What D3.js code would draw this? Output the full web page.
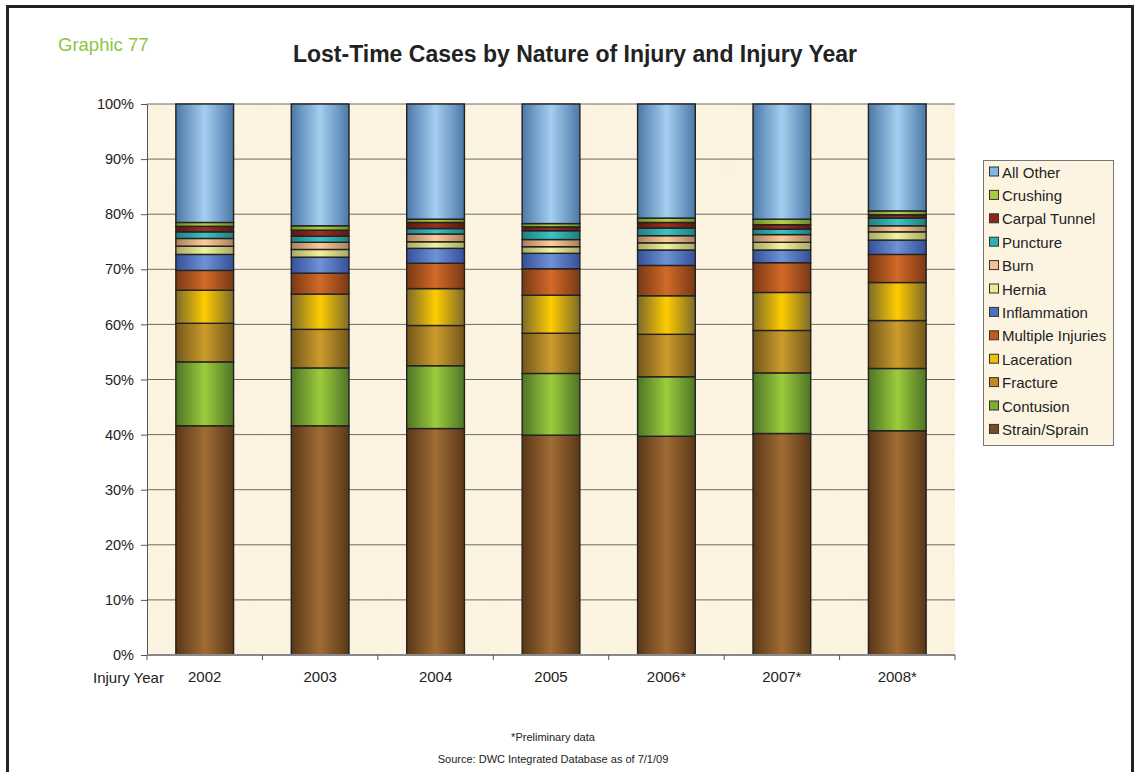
<!DOCTYPE html>
<html><head><meta charset="utf-8">
<script src="https://cdn.jsdelivr.net/npm/d3@7"></script>
<style>body{margin:0;background:#fff}svg{display:block;font-family:Arial,"Liberation Sans",sans-serif}</style>
</head><body><svg id="c" width="1139" height="772"></svg>
<script>
const years = ["2002","2003","2004","2005","2006*","2007*","2008*"];
const seriesNames = ["Strain/Sprain","Contusion","Fracture","Laceration","Multiple Injuries","Inflammation","Hernia","Burn","Puncture","Carpal Tunnel","Crushing","All Other"];
const strainSprain    = [41.6,41.6,41.1,39.9,39.7,40.2,40.7];
const contusion       = [11.6,10.5,11.4,11.2,10.8,11.0,11.3];
const fracture        = [7.0,7.0,7.3,7.3,7.7,7.7,8.7];
const laceration      = [6.0,6.4,6.7,6.9,7.0,6.9,6.9];
const multipleInjuries= [3.6,3.8,4.6,4.8,5.5,5.4,5.1];
const inflammation    = [2.9,2.9,2.7,2.8,2.8,2.3,2.6];
const hernia          = [1.5,1.4,1.2,1.2,1.3,1.4,1.5];
const burn            = [1.4,1.3,1.4,1.3,1.3,1.4,1.1];
const puncture        = [1.2,1.1,1.0,1.6,1.4,1.0,1.4];
const carpalTunnel    = [1.0,1.1,1.1,0.7,1.0,0.8,0.6];
const crushing        = [0.7,0.8,0.6,0.6,0.8,1.0,0.7];
const allOther        = [21.5,22.1,20.9,21.7,20.7,20.9,19.4];
const yTicks = [0,10,20,30,40,50,60,70,80,90,100];

const seriesValues = [strainSprain,contusion,fracture,laceration,multipleInjuries,inflammation,hernia,burn,puncture,carpalTunnel,crushing,allOther];
// [edge, center] colours
const colors = [["#5a3718","#a06c34"],["#4e7426","#9ccc3c"],["#73561a","#cc9c2c"],["#7d6a2a","#ffcc00"],["#7a3814","#d26a28"],["#34509a","#6f92d6"],["#a8a860","#f2f2a0"],["#a88060","#ffcc99"],["#1f7e80","#3cc4c4"],["#5a1810","#9c3020"],["#6e8c28","#b4d24a"],["#4c78a8","#a4cff0"]];
const legendColors = ["#7a4a20","#7ab030","#c08a20","#f0c000","#c8581c","#4a70c0","#eaea90","#f8c090","#30b0b0","#8a2818","#a8cc40","#80b8e8"];

const svg = d3.select("#c");
const defs = svg.append("defs");
colors.forEach((c,i)=>{
  const g = defs.append("linearGradient").attr("id","g"+i).attr("x1","0").attr("x2","1").attr("y1","0").attr("y2","0");
  g.append("stop").attr("offset","0").attr("stop-color",c[0]);
  g.append("stop").attr("offset","0.5").attr("stop-color",c[1]);
  g.append("stop").attr("offset","1").attr("stop-color",c[0]);
});
const f = defs.append("filter").attr("id","tex").attr("x",0).attr("y",0).attr("width",1).attr("height",1);
f.append("feTurbulence").attr("type","fractalNoise").attr("baseFrequency","0.02").attr("numOctaves",3).attr("seed",4).attr("result","n");
f.append("feColorMatrix").attr("in","n").attr("type","matrix")
 .attr("values","0 0 0 0 0.93  0 0 0 0 0.85  0 0 0 0 0.68  0 0 0 -1.2 0.75").attr("result","m");
f.append("feComposite").attr("in","m").attr("in2","SourceGraphic").attr("operator","in");

// outer frame
svg.append("rect").attr("x",7.5).attr("y",6.5).attr("width",1125).attr("height",800).attr("fill","none").attr("stroke","#222").attr("stroke-width",3);

const L=147,R=955,T=104,B=655;
const x = d3.scaleBand().domain(years).range([L,R]).paddingInner(0.5).paddingOuter(0.25);
const xb = d3.scaleBand().domain(years).range([L,R]);
const y = d3.scaleLinear().domain([0,100]).range([B,T]);

svg.append("rect").attr("x",L).attr("y",T).attr("width",R-L).attr("height",B-T).attr("fill","#fcf4e1");
svg.append("rect").attr("x",L).attr("y",T).attr("width",R-L).attr("height",B-T).attr("fill","#fcf4e1").attr("filter","url(#tex)").attr("opacity",0.35);

svg.append("g").selectAll("line").data(yTicks.slice(1)).join("line")
  .attr("x1",L).attr("x2",R).attr("y1",d=>y(d)).attr("y2",d=>y(d)).attr("stroke","#6e6a64").attr("stroke-width",1);

// stacks
const table = years.map((yr,j)=>{const o={year:yr}; seriesNames.forEach((s,i)=>o[s]=seriesValues[i][j]); return o;});
const stacked = d3.stack().keys(seriesNames)(table);
const gb = svg.append("g");
stacked.forEach((s,i)=>{
  gb.append("g").selectAll("rect").data(s).join("rect")
    .attr("x",d=>x(d.data.year)).attr("width",x.bandwidth())
    .attr("y",d=>y(d[1])).attr("height",d=>y(d[0])-y(d[1]))
    .attr("fill","url(#g"+i+")").attr("stroke","#222").attr("stroke-width",1.4);
});

// axes
const ya = svg.append("g").attr("transform",`translate(${L},0)`)
  .call(d3.axisLeft(y).tickValues(yTicks).tickFormat(d=>d+"%").tickSize(6).tickSizeOuter(0));
ya.select(".domain").attr("stroke","#555");
ya.selectAll(".tick line").attr("stroke","#555");
ya.selectAll("text").attr("font-size",14.5).attr("fill","#222").attr("x",-13).attr("font-family","Arial,'Liberation Sans',sans-serif");

const xa = svg.append("g").attr("transform",`translate(0,${B})`);
xa.append("line").attr("x1",L).attr("x2",R).attr("stroke","#888").attr("stroke-width",2);
xa.selectAll("line.t").data(years.map(d=>xb(d)).concat([R])).join("line").attr("class","t")
  .attr("x1",d=>d).attr("x2",d=>d).attr("y1",0).attr("y2",5).attr("stroke","#555");
xa.selectAll("text").data(years).join("text").attr("x",d=>xb(d)+xb.bandwidth()/2).attr("y",27)
  .attr("text-anchor","middle").attr("font-size",15).attr("fill","#222").text(d=>d);
svg.append("text").attr("x",93).attr("y",683).attr("font-size",15).attr("fill","#222").text("Injury Year");

// titles
svg.append("text").attr("x",58).attr("y",51).attr("font-size",18.5).attr("fill","#8dc63f").text("Graphic 77");
svg.append("text").attr("x",575).attr("y",62).attr("text-anchor","middle").attr("font-size",23).attr("font-weight","bold").attr("fill","#222")
  .text("Lost-Time Cases by Nature of Injury and Injury Year");
svg.append("text").attr("x",553).attr("y",741).attr("text-anchor","middle").attr("font-size",11).attr("fill","#222").text("*Preliminary data");
svg.append("text").attr("x",553).attr("y",763).attr("text-anchor","middle").attr("font-size",11).attr("fill","#222").text("Source: DWC Integrated Database as of 7/1/09");

// legend
const lg = svg.append("g");
lg.append("rect").attr("x",983.5).attr("y",160.5).attr("width",130).attr("height",285).attr("fill","#fcf4e1").attr("stroke","#777");
const order = seriesNames.map((s,i)=>i).reverse();
order.forEach((i,k)=>{
  const yy = 172 + k*23.4;
  lg.append("rect").attr("x",989.5).attr("y",yy-5).attr("width",9).attr("height",9).attr("fill",legendColors[i]).attr("stroke","#333");
  lg.append("text").attr("x",1002).attr("y",yy+5.5).attr("font-size",15).attr("fill","#222").text(seriesNames[i]);
});
</script></body></html>
